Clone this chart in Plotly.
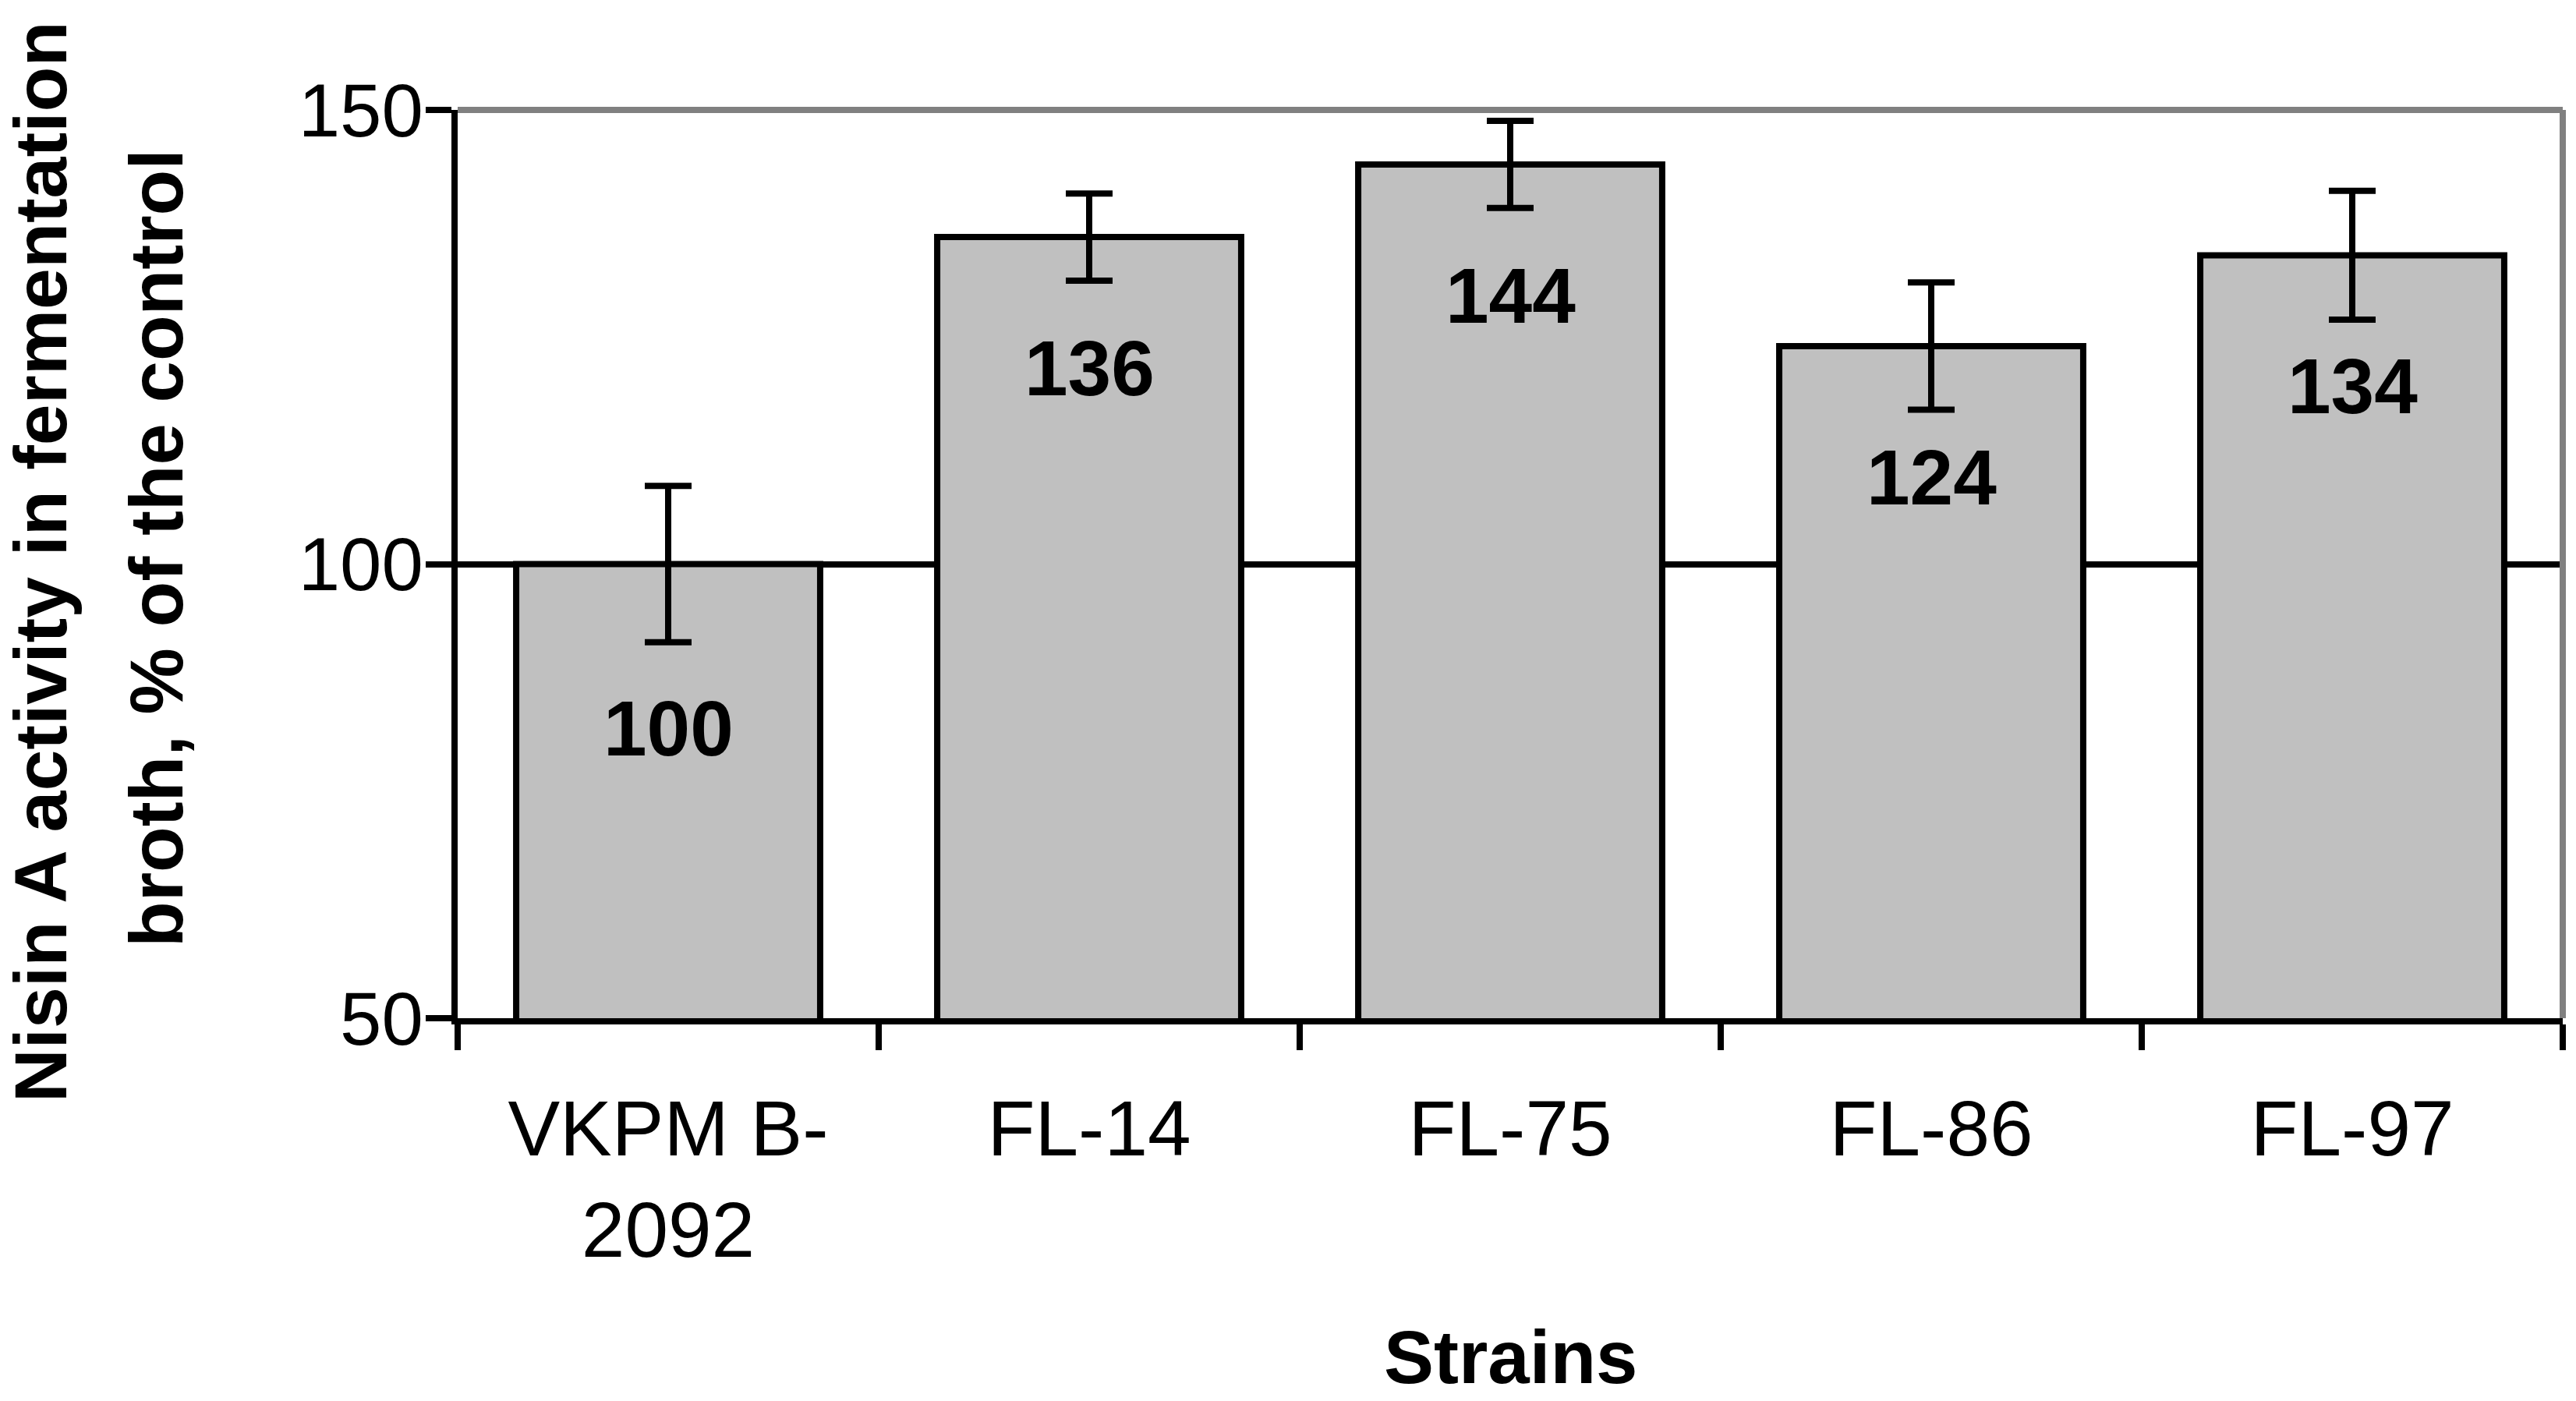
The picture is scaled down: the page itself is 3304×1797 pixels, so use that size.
import plotly.graph_objects as go

# ---- data ----
strains = ["VKPM B-<br>2092", "FL-14", "FL-75", "FL-86", "FL-97"]
activity = [100, 136, 144, 124, 134]
errors = [8.6, 4.8, 4.8, 7.0, 7.1]
value_labels = ["100", "136", "144", "124", "134"]
y_ticks = [50, 100, 150]

# ---- styling ----
FONT = "Arial, 'Liberation Sans', sans-serif"
W, H = 3304, 1797
L, R, T, B = 587, 17, 141, 491
PW, PH = W - L - R, H - T - B
label_shift = [210, 168, 168, 168, 168]  # px below bar top
LW = 8

fig = go.Figure()
fig.add_trace(go.Bar(
    x=strains, y=activity,
    marker=dict(color="#C0C0C0", line=dict(color="black", width=LW)),
    error_y=dict(type="data", array=errors, visible=True,
                 color="black", thickness=LW, width=30),
))

for s, v, t, sh in zip(strains, activity, value_labels, label_shift):
    fig.add_annotation(x=s, y=v, text=f"<b>{t}</b>", showarrow=False,
                       yanchor="middle", yshift=-sh,
                       font=dict(family=FONT, size=100, color="black"))

# y-axis title (two lines)
fig.add_annotation(xref="paper", yref="paper", x=(52 - L) / PW, y=(H - B - 721) / PH,
                   text="<b>Nisin A activity in fermentation</b>", textangle=-90, showarrow=False,
                   xanchor="center", yanchor="middle",
                   font=dict(family=FONT, size=95, color="black"))
fig.add_annotation(xref="paper", yref="paper", x=(200 - L) / PW, y=(H - B - 703) / PH,
                   text="<b>broth, % of the control</b>", textangle=-90, showarrow=False,
                   xanchor="center", yanchor="middle",
                   font=dict(family=FONT, size=96, color="black"))
# x-axis title
fig.add_annotation(xref="paper", yref="paper", x=0.5, y=(H - B - 1740) / PH,
                   text="<b>Strains</b>", showarrow=False, xanchor="center", yanchor="middle",
                   font=dict(family=FONT, size=96, color="black"))

# gray top/right plot border
fig.add_shape(type="line", xref="paper", yref="paper", x0=0, x1=1, y0=1, y1=1,
              line=dict(color="#808080", width=LW), layer="above")
fig.add_shape(type="line", xref="paper", yref="paper", x0=1, x1=1, y0=0, y1=1,
              line=dict(color="#808080", width=LW), layer="above")

fig.update_layout(
    width=W, height=H,
    margin=dict(l=L, r=R, t=T, b=B, pad=0),
    paper_bgcolor="white", plot_bgcolor="white",
    bargap=0.278,
    showlegend=False,
    font=dict(family=FONT, color="black"),
)
fig.update_xaxes(
    showline=True, linecolor="black", linewidth=LW,
    ticks="outside", tickson="boundaries", ticklen=33, tickwidth=LW, tickcolor="black",
    tickfont=dict(family=FONT, size=100, color="black"),
    ticklabelstandoff=48,
    showgrid=False,
)
fig.update_yaxes(
    range=[50, 150], tickvals=y_ticks,
    showline=True, linecolor="black", linewidth=LW,
    ticks="outside", ticklen=33, tickwidth=LW, tickcolor="black",
    tickfont=dict(family=FONT, size=96, color="black"),
    ticklabelstandoff=-16,
    showgrid=True, gridcolor="black", gridwidth=LW,
    zeroline=False,
)

fig.write_html("out.html", config={"displayModeBar": False},
               post_script="document.body.style.margin='0px';")
